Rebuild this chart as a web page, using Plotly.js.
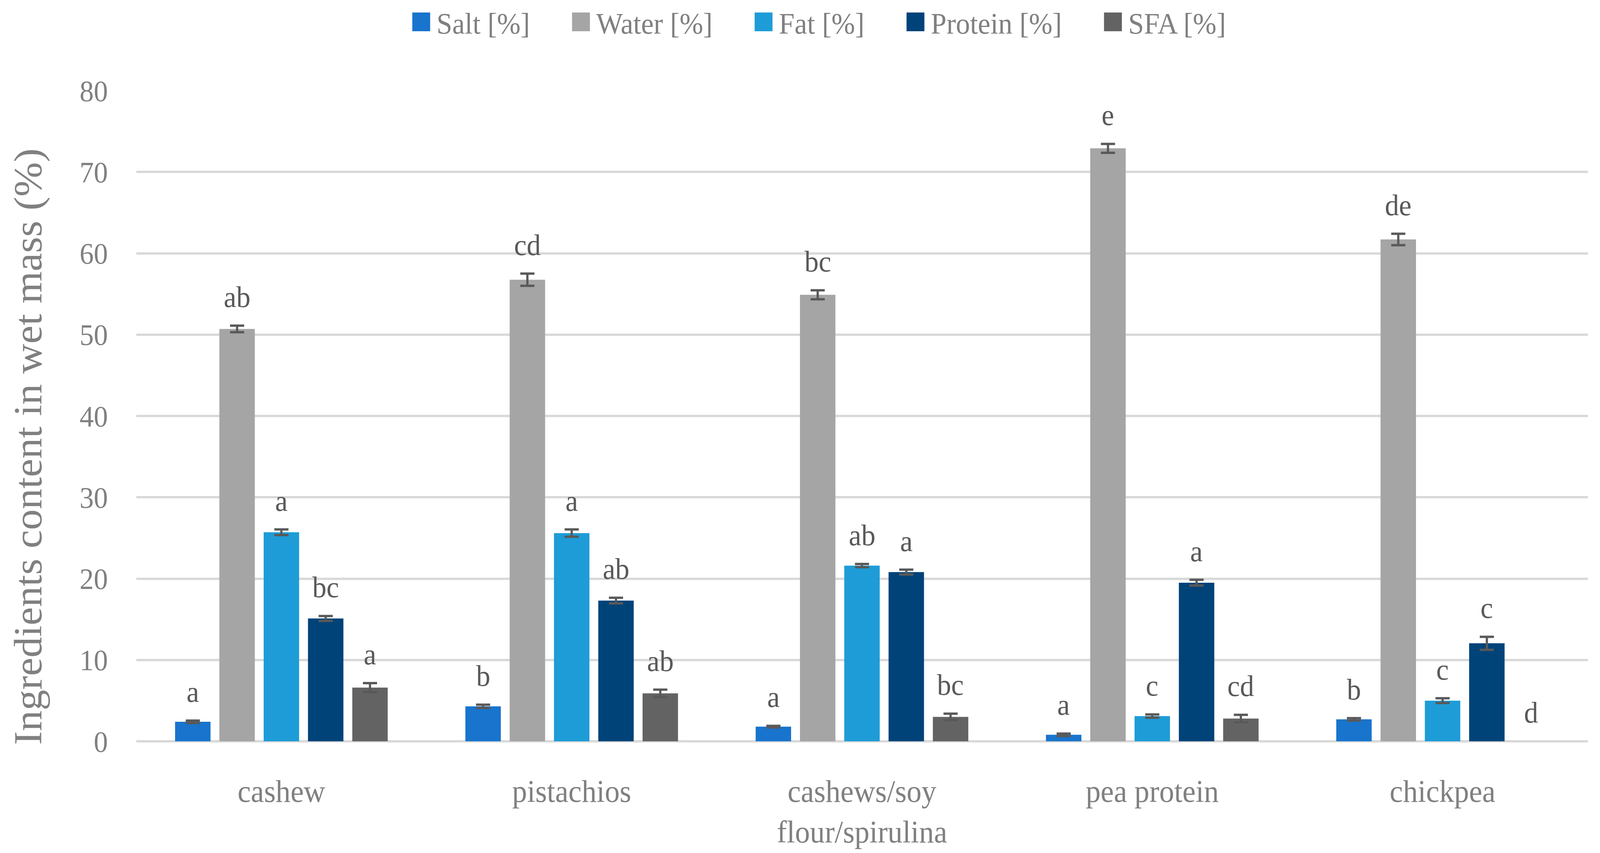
<!DOCTYPE html>
<html>
<head>
<meta charset="utf-8">
<script src="https://cdn.plot.ly/plotly-3.0.1.min.js"></script>
<style>
  html, body { margin: 0; padding: 0; background: #ffffff; overflow: hidden; }
  #myPlot { width: 4298px; height: 2184px; transform-origin: 0 0; }
</style>
</head>
<body>
<div id="myPlot"></div>
<script>
// sample names along the x axis
var categories = ['cashew', 'pistachios', 'cashews/soy<br>flour/spirulina', 'pea protein', 'chickpea'];

// means and error bars (% in wet mass)
// chickpea has no SFA bar (only its letter is shown)
var salt       = [2.4, 4.3, 1.8, 0.8, 2.7];
var saltErr    = [0.15, 0.2, 0.1, 0.15, 0.15];
var water      = [50.7, 56.75, 54.9, 72.9, 61.7];
var waterErr   = [0.4, 0.75, 0.55, 0.55, 0.7];
var fat        = [25.7, 25.6, 21.6, 3.1, 5.0];
var fatErr     = [0.35, 0.45, 0.2, 0.2, 0.3];
var protein    = [15.1, 17.3, 20.8, 19.5, 12.05];
var proteinErr = [0.3, 0.35, 0.3, 0.35, 0.8];
var sfa        = [6.6, 5.9, 3.0, 2.8, null];
var sfaErr     = [0.55, 0.45, 0.4, 0.45, null];

// significance letters above each bar
var saltLetters    = ['a', 'b', 'a', 'a', 'b'];
var waterLetters   = ['ab', 'cd', 'bc', 'e', 'de'];
var fatLetters     = ['a', 'a', 'ab', 'c', 'c'];
var proteinLetters = ['bc', 'ab', 'a', 'a', 'c'];
var sfaLetters     = ['a', 'ab', 'bc', 'cd', 'd'];

var seriesNames = ['Salt [%]', 'Water [%]', 'Fat [%]', 'Protein [%]', 'SFA [%]'];
var seriesColors = ['#1874CD', '#A5A5A5', '#1E9CD7', '#004379', '#636363'];

var yTitle = 'Ingredients content in wet mass (%)';

var FONT = '"Liberation Serif", "Times New Roman", serif';
var BARGAP = 0.237;
var LEGEND_ITEM = 163;
var W = 4298, H = 2184;

// the window may be narrower than the figure; squeeze it to fit
var plotDiv = document.getElementById('myPlot');
var sx = Math.min(1, window.innerWidth / W);
var sy = Math.min(1, window.innerHeight / H);
plotDiv.style.transform = 'scale(' + sx + ',' + sy + ')';

function makeTrace(name, y, err, color) {
    return {
        x: categories,
        y: y,
        name: name,
        type: 'bar',
        marker: { color: color },
        error_y: {
            type: 'data',
            array: err,
            visible: true,
            color: '#595959',
            thickness: 6,
            width: 19
        },
        hoverinfo: 'skip'
    };
}

var values  = [salt, water, fat, protein, sfa];
var errors  = [saltErr, waterErr, fatErr, proteinErr, sfaErr];
var letters = [saltLetters, waterLetters, fatLetters, proteinLetters, sfaLetters];

var data = [];
for (var s = 0; s < values.length; ++s) {
    data.push(makeTrace(seriesNames[s], values[s], errors[s], seriesColors[s]));
}

// letters sit above the error bar of their own bar in the group
var annotations = [];
var slot = (1 - BARGAP) / values.length;
for (var s = 0; s < values.length; ++s) {
    for (var i = 0; i < categories.length; ++i) {
        annotations.push({
            x: i + (s - (values.length - 1) / 2) * slot,
            y: (values[s][i] || 0) + (errors[s][i] || 0),
            xref: 'x',
            yref: 'y',
            text: letters[s][i],
            showarrow: false,
            yanchor: 'bottom',
            yshift: 30,
            font: { family: FONT, size: 76, color: '#595959' }
        });
    }
}

// y axis title as a rotated note: in the figure it sits a little below the middle
annotations.push({
    xref: 'paper',
    yref: 'paper',
    x: -0.0746,
    y: 0.453,
    xanchor: 'center',
    yanchor: 'middle',
    textangle: -90,
    text: yTitle,
    showarrow: false,
    font: { family: FONT, size: 106, color: '#808080' }
});

var layout = {
    width: W,
    height: H,
    paper_bgcolor: '#ffffff',
    plot_bgcolor: '#ffffff',
    margin: { l: 366, r: 33, t: 232, b: 286 },
    barmode: 'group',
    bargap: BARGAP,
    bargroupgap: 0.2,
    showlegend: true,
    legend: {
        orientation: 'h',
        x: 0.5,
        xref: 'container',
        xanchor: 'center',
        y: 1,
        yref: 'container',
        yanchor: 'top',
        itemwidth: LEGEND_ITEM,
        font: { family: FONT, size: 76, color: '#808080' },
        traceorder: 'normal'
    },
    xaxis: {
        type: 'category',
        showgrid: false,
        showline: false,
        zeroline: false,
        ticks: 'outside',
        ticklen: 58,
        tickcolor: 'rgba(0,0,0,0)',
        tickfont: { family: FONT, size: 80, color: '#808080' }
    },
    yaxis: {
        range: [0, 80],
        dtick: 10,
        showgrid: true,
        gridcolor: '#D9D9D9',
        gridwidth: 6,
        zeroline: true,
        zerolinecolor: '#D9D9D9',
        zerolinewidth: 6,
        showline: false,
        ticks: 'outside',
        ticklen: 60,
        tickcolor: 'rgba(0,0,0,0)',
        tickfont: { family: FONT, size: 76, color: '#808080' }
    },
    annotations: annotations
};

var config = { staticPlot: true, displayModeBar: false };

Plotly.newPlot('myPlot', data, layout, config).then(function (gd) {
    // Plotly draws bar legend swatches at a fixed 12px; make them 48px and
    // push them to the right end of the item slot, next to the text
    var dx = LEGEND_ITEM / 2 - 36;
    var swatches = gd.querySelectorAll('.legendpoints path');
    for (var k = 0; k < swatches.length; ++k) {
        swatches[k].setAttribute('d', 'M' + (dx + 24) + ',24H' + (dx - 24) + 'V-24H' + (dx + 24) + 'Z');
    }
});
</script>
</body>
</html>
